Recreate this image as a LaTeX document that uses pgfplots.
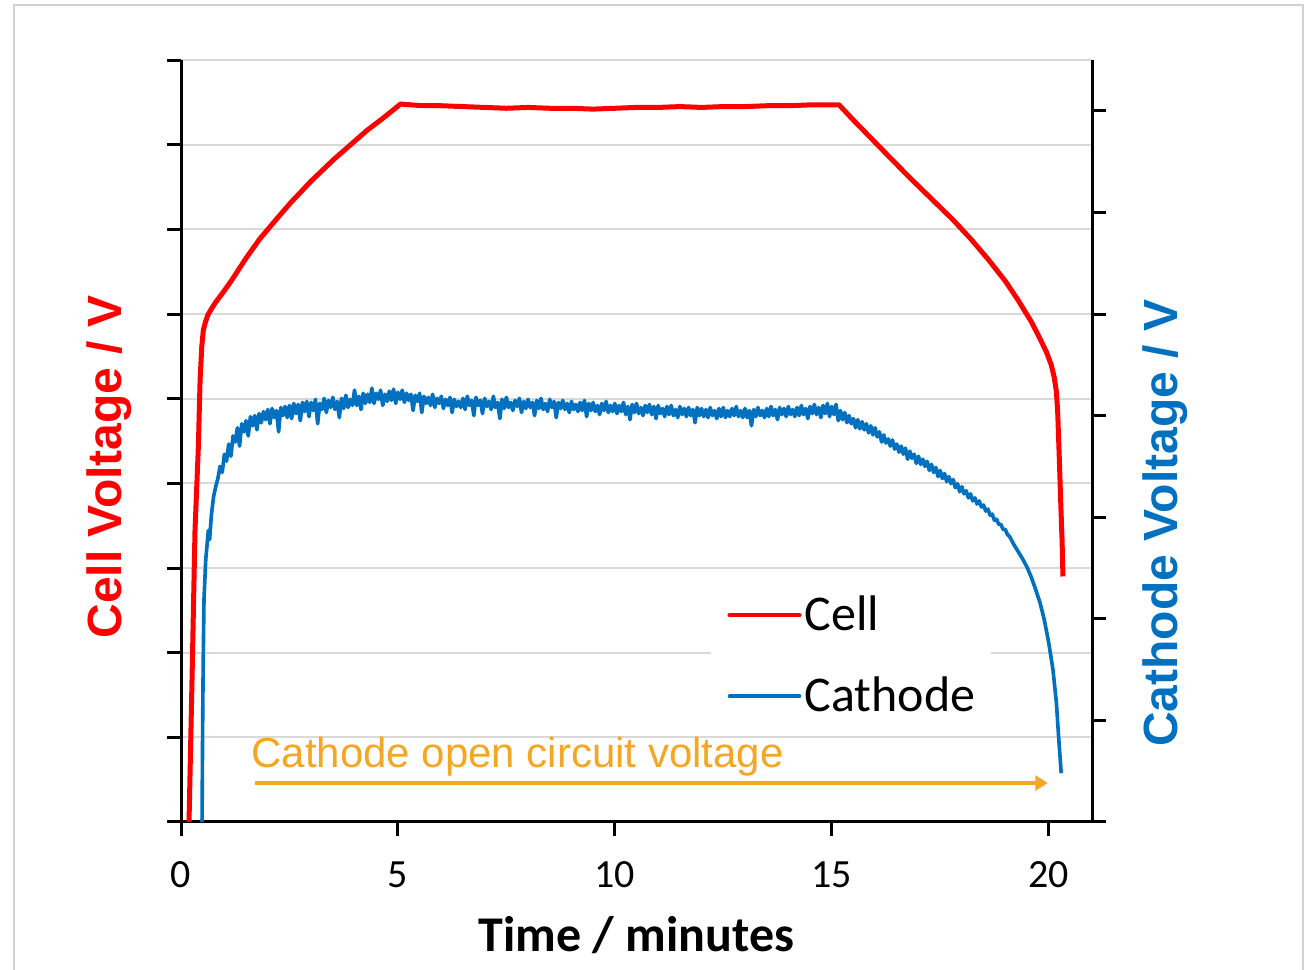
\documentclass[border=0pt]{standalone}
\usepackage{fontspec}
\setmainfont{Carlito}
\newfontfamily\arial{Liberation Sans}
\usepackage{pgfplots}
\pgfplotsset{compat=1.18}
\usetikzlibrary{arrows.meta}

\definecolor{cellred}{HTML}{FF0000}
\definecolor{cathblue}{HTML}{0070C0}
\definecolor{ocvorange}{HTML}{F5A623}
\definecolor{gridgray}{HTML}{D9D9D9}
\definecolor{framegray}{HTML}{D2D2D2}

\pgfplotsset{
  common/.style={
    scale only axis, width=364.4pt, height=304.8pt,
    at={(72.4pt,59.2pt)}, anchor=south west,
    xmin=0, xmax=21,
    axis line style={line width=1.2pt, black},
    major tick length=5.6pt,
    major tick style={line width=1.2pt, black},
    tick align=outside,
    /pgf/number format/assume math mode=true,
  }
}

\begin{document}
\begin{tikzpicture}
\useasboundingbox (0,0) rectangle (524.8pt,388pt);
\fill[white] (0,0) rectangle (524.8pt,388pt);
\draw[framegray, line width=1pt] (5.6pt,-5pt) rectangle (521.2pt,386pt);

% Cell voltage (left axis)
\begin{axis}[common,
  axis x line*=bottom, axis y line*=left,
  ymin=0, ymax=9, ytick={0,...,9}, yticklabel=\empty,
  xtick={0,5,10,15,20},
  xticklabel style={font=\fontsize{16}{19}\selectfont, anchor=base, yshift=-20.8pt},
  ymajorgrids, major grid style={gridgray, line width=0.8pt},
  xlabel={Time / minutes},
  every axis x label/.style={at={(rel axis cs:0.5,0)}, anchor=base, yshift=-52pt,
    font=\fontsize{20}{24}\selectfont\bfseries},
  ylabel={Cell Voltage / V},
  every axis y label/.style={at={(rel axis cs:-0.0648,0.466)}, rotate=90, anchor=base,
    font=\arial\fontsize{19.2}{23}\selectfont\bfseries, text=cellred},
]
\addplot[cellred, line width=2pt, line join=round] coordinates {
(0.185,0) (0.254,1.68) (0.323,3.45) (0.40,4.43) (0.44,5.22) (0.478,5.61)
(0.515,5.81) (0.56,5.90) (0.62,5.99) (0.70,6.06) (0.80,6.14) (0.977,6.26)
(1.17,6.40) (1.5,6.66) (1.82,6.89) (2.2,7.12) (2.52,7.31) (3.0,7.57)
(3.51,7.82) (4.0,8.04) (4.29,8.17) (4.7,8.33) (5.06,8.48) (5.3,8.47)
(5.6,8.46) (6.0,8.46) (6.5,8.45) (7.0,8.44) (7.5,8.43) (8.0,8.44)
(8.5,8.43) (9.0,8.43) (9.5,8.42) (10.0,8.43) (10.5,8.44) (11.0,8.44)
(11.5,8.45) (12.0,8.44) (12.5,8.45) (13.0,8.45) (13.5,8.46) (14.0,8.46)
(14.5,8.47) (15.17,8.47) (15.5,8.29) (15.9,8.08) (16.3,7.87) (16.8,7.61)
(17.3,7.36) (17.8,7.11) (18.2,6.89) (18.6,6.65) (19.0,6.39) (19.3,6.16)
(19.6,5.91) (19.8,5.71) (19.95,5.55) (20.06,5.40) (20.13,5.25) (20.18,5.08)
(20.21,4.83) (20.25,4.24) (20.28,3.76) (20.31,3.33) (20.33,2.90)
};
\node[anchor=base west, inner sep=0pt, text=ocvorange,
  font=\arial\fontsize{16.8}{20}\selectfont] at (axis cs:1.61,0.638)
  {Cathode open circuit voltage};
\draw[ocvorange, line width=1.6pt, -{Triangle[length=5pt,width=6pt]}]
  (axis cs:1.71,0.46) -- (axis cs:19.98,0.46);
\end{axis}

% Cathode voltage (right axis)
\begin{axis}[common,
  axis x line=none, axis y line*=right,
  ymin=0, ymax=7.5, ytick={0,...,7}, yticklabel=\empty,
  ylabel={Cathode Voltage / V},
  every axis y label/.style={at={(rel axis cs:1.0933,0.392)}, rotate=90, anchor=base,
    font=\arial\fontsize{19.2}{23}\selectfont\bfseries, text=cathblue},
  legend style={at={(rel axis cs:0.5817,0.3202)}, anchor=north west,
    draw=none, fill=white, inner xsep=6.4pt, inner ysep=7pt,
    font=\fontsize{20}{24}\selectfont, row sep=17pt, column sep=1.2pt,
    nodes={inner sep=0pt}},
  legend cell align=left,
  legend image code/.code={\draw[#1, line cap=round] (-1pt,0pt) -- (27pt,0pt);},
]
\addlegendimage{cellred, line width=1.7pt}
\addlegendentry{Cell}
\addplot[cathblue, line width=1.45pt, line join=round] coordinates {
(0.485,0) (0.50,1.0) (0.51,1.5) (0.53,2.19) (0.57,2.58) (0.63,2.87) (0.66,2.78)
(0.70,3.02) (0.75,3.20) (0.80,3.30) (0.85,3.38) (0.90,3.50) (0.95,3.44)
(1.00,3.62) (1.05,3.55) (1.10,3.72) (1.15,3.60) (1.20,3.80) (1.25,3.74)
(1.30,3.88) (1.35,3.70) (1.40,3.92) (1.45,3.84) (1.50,3.95) (1.55,3.80)
(1.60,3.99) (1.65,3.90) (1.70,4.00) (1.75,3.86) (1.80,4.02) (1.85,3.93)
(1.90,4.04) (1.95,3.96) (2.00,4.06) (2.05,3.92) (2.10,4.07) (2.15,3.98)
(2.20,4.05) (2.25,3.84) (2.30,4.08) (2.35,4.00) (2.40,4.09) (2.45,3.98)
(2.50,4.10) (2.55,3.97) (2.60,4.12) (2.65,4.02) (2.70,4.11) (2.75,3.95)
(2.80,4.13) (2.85,4.04) (2.90,4.14) (2.95,3.99) (3.00,4.13) (3.05,4.05)
(3.10,4.16) (3.15,3.92) (3.20,4.12) (3.25,4.06) (3.30,4.17) (3.35,4.03)
(3.40,4.15) (3.45,4.08) (3.50,4.18) (3.55,4.06) (3.60,4.14) (3.65,3.98)
(3.70,4.17) (3.75,4.07) (3.80,4.20) (3.85,4.08) (3.90,4.16) (3.95,4.10)
(4.00,4.25) (4.05,4.10) (4.10,4.19) (4.15,4.06) (4.20,4.22) (4.25,4.12)
(4.30,4.21) (4.35,4.13) (4.40,4.27) (4.45,4.12) (4.50,4.22) (4.55,4.16)
(4.60,4.25) (4.65,4.10) (4.70,4.21) (4.75,4.14) (4.80,4.24) (4.85,4.15)
(4.90,4.26) (4.95,4.12) (5.00,4.23) (5.05,4.16) (5.10,4.25) (5.15,4.13)
(5.20,4.22) (5.25,4.15) (5.30,4.21) (5.35,4.05) (5.40,4.20) (5.45,4.14)
(5.50,4.22) (5.55,4.03) (5.60,4.19) (5.65,4.12) (5.70,4.18) (5.75,4.10)
(5.80,4.21) (5.85,4.08) (5.90,4.17) (5.95,4.12) (6.00,4.19) (6.05,4.07)
(6.10,4.16) (6.15,4.10) (6.20,4.18) (6.25,4.03) (6.30,4.16) (6.35,4.09)
(6.40,4.14) (6.45,4.08) (6.50,4.17) (6.55,4.06) (6.60,4.19) (6.65,4.10)
(6.70,4.15) (6.75,4.00) (6.80,4.18) (6.85,4.10) (6.90,4.15) (6.95,4.02)
(7.00,4.17) (7.05,4.09) (7.10,4.14) (7.15,4.06) (7.20,4.19) (7.25,4.08)
(7.30,4.13) (7.35,3.97) (7.40,4.16) (7.45,4.07) (7.50,4.18) (7.55,4.08)
(7.60,4.13) (7.65,4.05) (7.70,4.15) (7.75,4.09) (7.80,4.17) (7.85,4.03)
(7.90,4.14) (7.95,4.07) (8.00,4.16) (8.05,4.08) (8.10,4.13) (8.15,4.00)
(8.20,4.15) (8.25,4.07) (8.30,4.17) (8.35,4.06) (8.40,4.12) (8.45,4.04)
(8.50,4.16) (8.55,4.08) (8.60,4.14) (8.65,3.98) (8.70,4.13) (8.75,4.07)
(8.80,4.15) (8.85,4.06) (8.90,4.12) (8.95,4.03) (9.00,4.14) (9.05,4.06)
(9.10,4.11) (9.15,4.04) (9.20,4.13) (9.25,4.05) (9.30,4.15) (9.35,3.99)
(9.40,4.12) (9.45,4.05) (9.50,4.13) (9.55,4.04) (9.60,4.10) (9.65,4.01)
(9.70,4.12) (9.75,4.05) (9.80,4.14) (9.85,4.03) (9.90,4.10) (9.95,4.04)
(10.00,4.12) (10.05,4.02) (10.10,4.10) (10.15,4.04) (10.20,4.13) (10.25,4.01)
(10.30,4.09) (10.35,3.96) (10.40,4.11) (10.45,4.03) (10.50,4.12) (10.55,4.02)
(10.60,4.08) (10.65,4.00) (10.70,4.10) (10.75,4.03) (10.80,4.11) (10.85,4.01)
(10.90,4.09) (10.95,3.97) (11.00,4.10) (11.05,4.02) (11.10,4.07) (11.15,3.99)
(11.20,4.09) (11.25,4.01) (11.30,4.10) (11.35,4.00) (11.40,4.06) (11.45,3.98)
(11.50,4.09) (11.55,4.01) (11.60,4.07) (11.65,3.99) (11.70,4.08) (11.75,4.00)
(11.80,4.06) (11.85,3.93) (11.90,4.08) (11.95,4.00) (12.00,4.07) (12.05,3.99)
(12.10,4.06) (12.15,3.98) (12.20,4.08) (12.25,4.00) (12.30,4.05) (12.35,3.97)
(12.40,4.07) (12.45,3.99) (12.50,4.08) (12.55,3.98) (12.60,4.05) (12.65,3.99)
(12.70,4.07) (12.75,4.00) (12.80,4.09) (12.85,3.99) (12.90,4.05) (12.95,3.98)
(13.00,4.07) (13.05,3.98) (13.10,4.05) (13.15,3.90) (13.20,4.06) (13.25,3.99)
(13.30,4.08) (13.35,4.00) (13.40,4.05) (13.45,3.98) (13.50,4.07) (13.55,3.99)
(13.60,4.09) (13.65,4.00) (13.70,4.06) (13.75,3.96) (13.80,4.08) (13.85,4.01)
(13.90,4.07) (13.95,3.99) (14.00,4.09) (14.05,4.01) (14.10,4.06) (14.15,3.99)
(14.20,4.08) (14.25,4.00) (14.30,4.10) (14.35,4.01) (14.40,4.07) (14.45,3.97)
(14.50,4.09) (14.55,4.02) (14.60,4.11) (14.65,4.01) (14.70,4.08) (14.75,3.98)
(14.80,4.10) (14.85,4.02) (14.90,4.12) (14.95,3.99) (15.00,4.09) (15.05,4.01)
(15.10,4.11) (15.15,3.95) (15.20,4.05) (15.25,3.96) (15.30,4.03) (15.35,3.93)
(15.40,4.00) (15.45,3.92) (15.50,3.97) (15.55,3.88) (15.60,3.96) (15.65,3.87)
(15.70,3.94) (15.75,3.86) (15.80,3.92) (15.85,3.83) (15.90,3.90) (15.95,3.81)
(16.00,3.88) (16.05,3.79) (16.10,3.84) (16.15,3.74) (16.20,3.81) (16.25,3.73)
(16.30,3.77) (16.35,3.70) (16.40,3.76) (16.45,3.67) (16.50,3.72) (16.55,3.64)
(16.60,3.70) (16.65,3.62) (16.70,3.68) (16.75,3.57) (16.80,3.65) (16.85,3.58)
(16.90,3.62) (16.95,3.53) (17.00,3.60) (17.05,3.52) (17.10,3.57) (17.15,3.50)
(17.20,3.55) (17.25,3.46) (17.30,3.52) (17.35,3.44) (17.40,3.49) (17.45,3.40)
(17.50,3.46) (17.55,3.38) (17.60,3.43) (17.65,3.35) (17.70,3.40) (17.75,3.33)
(17.80,3.37) (17.85,3.29) (17.90,3.33) (17.95,3.25) (18.00,3.30) (18.05,3.23)
(18.10,3.26) (18.15,3.19) (18.20,3.23) (18.25,3.16) (18.30,3.19) (18.35,3.13)
(18.40,3.16) (18.45,3.10) (18.50,3.12) (18.55,3.06) (18.60,3.08) (18.65,3.02)
(18.70,3.03) (18.75,2.97) (18.80,2.98) (18.85,2.93) (18.90,2.93) (18.95,2.88)
(19.00,2.88) (19.05,2.83) (19.10,2.81) (19.20,2.73) (19.30,2.66) (19.40,2.59)
(19.50,2.51) (19.60,2.41) (19.70,2.29) (19.80,2.16) (19.90,1.99) (20.00,1.77)
(20.10,1.50) (20.18,1.17) (20.23,0.84) (20.29,0.48)
};
\addlegendentry{Cathode}
\end{axis}
\end{tikzpicture}
\end{document}
